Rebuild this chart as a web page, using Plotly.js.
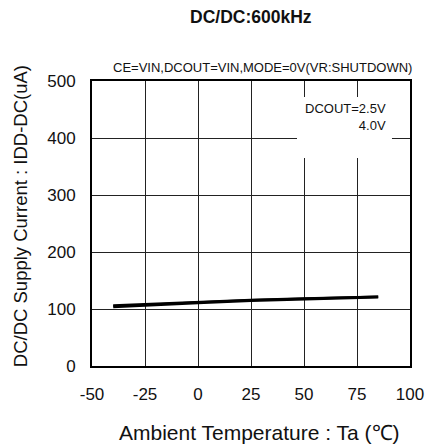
<!DOCTYPE html>
<html><head><meta charset="utf-8">
<script src="https://cdn.plot.ly/plotly-3.0.1.min.js"></script>
<style>html,body{margin:0;padding:0;background:#fff;}#chart{width:426px;height:448px;}</style>
</head><body><div id="chart"></div>
<script>
const temps = [-40, -25, 0, 25, 50, 75, 85];
const idd_25V = [104, 107, 111, 115, 118, 120, 121];
const idd_40V = [106, 108.5, 112.5, 116, 118.5, 120.5, 121.5];
const xTicks = [-50, -25, 0, 25, 50, 75, 100];
const yTicks = [0, 100, 200, 300, 400, 500];

const FONT = "Arial, 'Liberation Sans', sans-serif";
const traces = [
  {x: temps, y: idd_25V, mode: 'lines', line: {color: '#000', width: 3}, name: 'DCOUT=2.5V'},
  {x: temps, y: idd_40V, mode: 'lines', line: {color: '#000', width: 2.5}, name: '4.0V'}
];
const layout = {
  width: 426, height: 448,
  margin: {l: 92, r: 16, t: 81, b: 82},
  paper_bgcolor: '#fff', plot_bgcolor: '#fff',
  showlegend: false,
  font: {family: FONT, color: '#111'},
  xaxis: {range: [-50, 100], tickvals: xTicks, ticktext: xTicks.map(String),
    showgrid: true, gridcolor: '#222', gridwidth: 1, zeroline: false,
    showline: true, mirror: true, linecolor: '#000', linewidth: 2,
    ticks: '', tickfont: {size: 17, family: FONT, color: '#111'}, ticklabelstandoff: 12},
  yaxis: {range: [0, 500], tickvals: yTicks, ticktext: yTicks.map(String),
    showgrid: true, gridcolor: '#222', gridwidth: 1, zeroline: false,
    showline: true, mirror: true, linecolor: '#000', linewidth: 2,
    ticks: '', tickfont: {size: 17, family: FONT, color: '#111'}, ticklabelstandoff: 11},
  shapes: [
    {type: 'rect', xref: 'x', yref: 'y', x0: 46.7, x1: 91.5, y0: 365, y1: 472,
     fillcolor: '#fff', line: {width: 0}, layer: 'above'}
  ],
  annotations: [
    {text: '<b>DC/DC:600kHz</b>', xref: 'paper', yref: 'paper', x: 0.5, y: 1.2246,
     xanchor: 'center', yanchor: 'middle', showarrow: false, font: {size: 17.5, family: FONT, color: '#111'}},
    {text: 'CE=VIN,DCOUT=VIN,MODE=0V(VR:SHUTDOWN)', xref: 'paper', yref: 'paper', x: 0.536, y: 1.049,
     xanchor: 'center', yanchor: 'middle', showarrow: false, font: {size: 13, family: FONT, color: '#111'}},
    {text: 'DCOUT=2.5V<br>4.0V', xref: 'x', yref: 'y', x: 89.6, y: 437, align: 'right',
     xanchor: 'right', yanchor: 'middle', showarrow: false, font: {size: 13, family: FONT, color: '#111'}},
    {text: 'Ambient Temperature : Ta (\u2103)', xref: 'paper', yref: 'paper', x: 0.528, y: -0.235,
     xanchor: 'center', yanchor: 'middle', showarrow: false, font: {size: 21, family: FONT, color: '#111'}},
    {text: 'DC/DC Supply Current : IDD-DC(uA)', xref: 'paper', yref: 'paper', x: -0.226, y: 0.526,
     xanchor: 'center', yanchor: 'middle', textangle: -90, showarrow: false, font: {size: 18.5, family: FONT, color: '#111'}}
  ]
};
Plotly.newPlot('chart', traces, layout, {staticPlot: true, displayModeBar: false});
</script></body></html>
